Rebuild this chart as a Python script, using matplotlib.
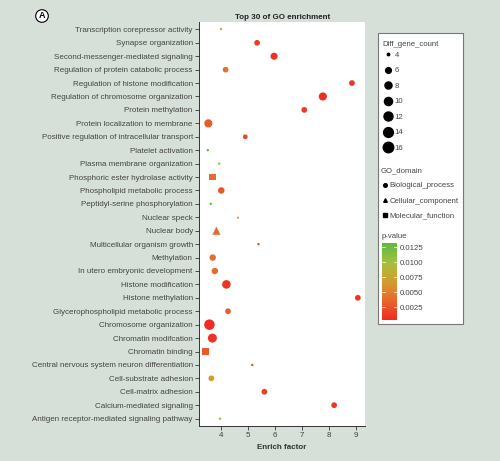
import numpy as np
import matplotlib
matplotlib.use("Agg")
import matplotlib.pyplot as plt
from matplotlib.colors import LinearSegmentedColormap, Normalize
from matplotlib.lines import Line2D
from matplotlib.patches import Rectangle

plt.rcParams['font.family'] = ['Liberation Sans', 'DejaVu Sans']

# GO terms, listed bottom to top (as plotted)
terms = [
    "Antigen receptor-mediated signaling pathway",
    "Calcium-mediated signaling",
    "Cell-matrix adhesion",
    "Cell-substrate adhesion",
    "Central nervous system neuron differentiation",
    "Chromatin binding",
    "Chromatin modifcation",
    "Chromosome organization",
    "Glycerophospholipid metabolic process",
    "Histone methylation",
    "Histone modification",
    "In utero embryonic development",
    "Methylation",
    "Multicellular organism growth",
    "Nuclear body",
    "Nuclear speck",
    "Peptidyl-serine phosphorylation",
    "Phospholipid metabolic process",
    "Phosphoric ester hydrolase activity",
    "Plasma membrane organization",
    "Platelet activation",
    "Positive regulation of intracellular transport",
    "Protein localization to membrane",
    "Protein methylation",
    "Regulation of chromosome organization",
    "Regulation of histone modification",
    "Regulation of protein catabolic process",
    "Second-messenger-mediated signaling",
    "Synapse organization",
    "Transcription corepressor activity",
]
enrich = [3.96, 8.20, 5.61, 3.64, 5.16, 3.43, 3.68, 3.57, 4.26, 9.08,
          4.20, 3.77, 3.69, 5.39, 3.83, 4.63, 3.62, 4.01, 3.68, 3.93,
          3.51, 4.90, 3.53, 7.09, 7.78, 8.86, 4.17, 5.97, 5.34, 4.00]
counts = [4, 6, 6, 6, 4, 9, 12, 16, 6, 6,
          11, 7, 7, 4, 10, 4, 4, 7, 9, 4,
          4, 5, 10, 6, 10, 6, 6, 8, 6, 4]
pvals = [0.0095, 0.0010, 0.0012, 0.0068, 0.0025, 0.0030, 0.0008, 0.0005, 0.0032, 0.0009,
         0.0010, 0.0040, 0.0040, 0.0022, 0.0038, 0.0045, 0.0125, 0.0028, 0.0040, 0.0100,
         0.0130, 0.0020, 0.0030, 0.0012, 0.0006, 0.0010, 0.0042, 0.0008, 0.0012, 0.0095]
domains = ["BP", "BP", "BP", "BP", "BP", "MF", "BP", "BP", "BP", "BP",
           "BP", "BP", "BP", "BP", "CC", "CC", "BP", "BP", "MF", "BP",
           "BP", "BP", "BP", "BP", "BP", "BP", "BP", "BP", "BP", "MF"]

size_breaks = [4, 6, 8, 10, 12, 14, 16]
domain_names = {"BP": "Biological_process", "CC": "Cellular_component", "MF": "Molecular_function"}
domain_marker = {"BP": "o", "CC": "^", "MF": "s"}
p_ticks = [0.0025, 0.0050, 0.0075, 0.0100, 0.0125]

W, H = 500, 461
fig = plt.figure(figsize=(W / 100, H / 100), dpi=100)
fig.patch.set_facecolor('#d6e0d9')

def fx(px):
    return px / W

def fy(py):
    return 1 - py / H

cmap = LinearSegmentedColormap.from_list(
    "pv", [(0.0, '#ef2b23'), (0.25, '#e7672b'), (0.45, '#d8942f'),
           (0.6, '#bfad35'), (0.75, '#a2c03c'), (1.0, '#5cb947')])
norm = Normalize(vmin=0.0004, vmax=0.0133)

def diam_pt(c):
    d_px = 1.75 * (1.4 + 4.6 * np.sqrt((c - 4) / 12.0))
    return d_px * 0.72

grey = '#444444'
fs = 5.8
lfs = 5.6

ax = fig.add_axes([fx(199), fy(426), fx(365.3) - fx(199), fy(22) - fy(426)])
ax.set_facecolor('white')
y = np.arange(len(terms))
enrich_a = np.array(enrich)
counts_a = np.array(counts)
pvals_a = np.array(pvals)
for d in ["BP", "CC", "MF"]:
    m = np.array([dd == d for dd in domains])
    sz = diam_pt(counts_a[m]) ** 2
    if d == "MF":
        sz = sz * 0.8
    ax.scatter(enrich_a[m], y[m], s=sz, c=pvals_a[m], cmap=cmap, norm=norm,
               marker=domain_marker[d], linewidths=0, zorder=3)

ax.set_xlim(3.183, 9.356)
ax.set_ylim(-0.55, len(terms) - 0.45)
ax.set_yticks(y)
ax.set_yticklabels(terms)
ax.set_xticks([4, 5, 6, 7, 8, 9])
ax.tick_params(axis='both', labelsize=fs, colors='#333333', labelcolor=grey,
               length=3, width=0.6, pad=1.5)
for s in ['top', 'right']:
    ax.spines[s].set_visible(False)
for s in ['left', 'bottom']:
    ax.spines[s].set_color('#333333')
    ax.spines[s].set_linewidth(0.7)
ax.set_title("Top 30 of GO enrichment", fontsize=fs, fontweight='bold',
             color='#222222', pad=2.5)
ax.set_xlabel("Enrich factor", fontsize=fs, fontweight='bold',
              color='#333333', labelpad=3.5)

# panel letter
fig.text(fx(42), fy(16), "A", fontsize=6.5, fontweight='bold', ha='center', va='center',
         bbox=dict(boxstyle='circle,pad=0.2', fc='white', ec='black', lw=0.8))

# legend box
fig.patches.append(Rectangle((fx(377.7), fy(324.3)), fx(462.7) - fx(377.7),
                             fy(33.3) - fy(324.3), transform=fig.transFigure,
                             fc='white', ec='#777777', lw=0.8, zorder=-1))

size_handles = [Line2D([], [], marker='o', linestyle='', color='black',
                       markersize=diam_pt(c)) for c in size_breaks]
leg1 = fig.legend(size_handles, [str(c) for c in size_breaks], title="Diff_gene_count",
                  loc='upper left', bbox_to_anchor=(fx(381), fy(39.5)), frameon=False,
                  fontsize=lfs, title_fontsize=lfs, alignment='left', labelspacing=1.03,
                  handlelength=1.4, handletextpad=0.15, borderpad=0.2, borderaxespad=0)
leg1._legend_box.sep = 2.5
for t in leg1.get_texts():
    t.set_color(grey)
leg1.get_title().set_color(grey)

shape_handles = [Line2D([], [], marker=domain_marker[d], linestyle='', color='black',
                        markersize=2.6) for d in ["BP", "CC", "MF"]]
leg2 = fig.legend(shape_handles, [domain_names[d] for d in ["BP", "CC", "MF"]],
                  title="GO_domain", loc='upper left', bbox_to_anchor=(fx(379.5), fy(165.5)),
                  frameon=False, fontsize=lfs, title_fontsize=lfs, alignment='left',
                  labelspacing=1.0, handlelength=1.0, handletextpad=0.1,
                  borderpad=0.2, borderaxespad=0)
for t in leg2.get_texts():
    t.set_color(grey)
leg2.get_title().set_color(grey)

fig.text(fx(382), fy(236), "p-value", fontsize=lfs, color=grey, va='center', ha='left')
cax = fig.add_axes([fx(382.3), fy(320), fx(397.3) - fx(382.3), fy(242.7) - fy(320)])
cb = fig.colorbar(plt.cm.ScalarMappable(norm=norm, cmap=cmap), cax=cax, ticks=p_ticks)
cb.outline.set_visible(False)
cb.ax.set_yticklabels(["%.4f" % v for v in p_ticks])
cb.ax.tick_params(length=0, labelsize=lfs, labelcolor=grey, pad=2)
for v in p_ticks:
    cb.ax.axhline(v, xmin=0, xmax=0.2, color='white', lw=0.5)
    cb.ax.axhline(v, xmin=0.8, xmax=1, color='white', lw=0.5)

fig.savefig("out.png", dpi=100, facecolor=fig.get_facecolor())
